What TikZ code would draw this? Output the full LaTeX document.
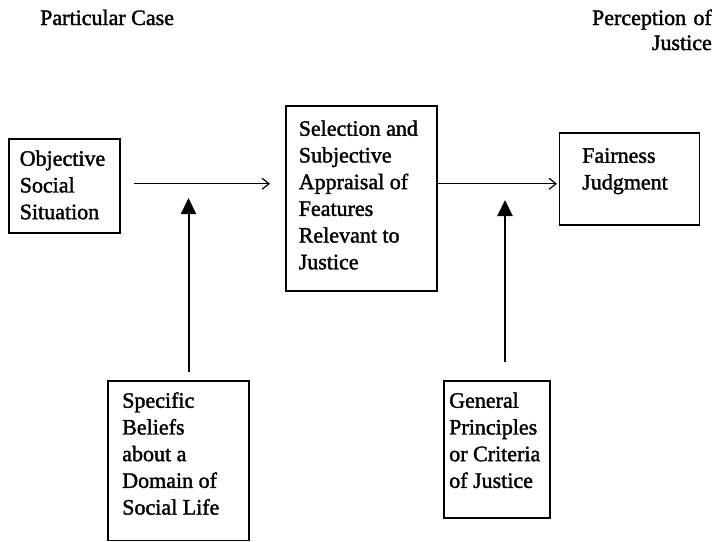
\documentclass[tikz,border=0pt]{standalone}
\usepackage{fontspec}
\setmainfont{Liberation Serif}[FakeBold = 1.6]
\usetikzlibrary{arrows.meta}
\tikzstyle{diagram} = [x = 1pt, y = -1pt]
\tikzstyle{boxStyle} = [draw, line width = 1.5pt, align = flush left, inner ysep = 0pt, anchor = north west, font = \fontsize{22}{26.7}\selectfont]
\tikzstyle{titleText} = [font = \fontsize{22}{25}\selectfont, inner sep = 0pt]
\tikzstyle{flowArrow} = [line width = 1.2pt, -{Straight Barb[length = 7pt, width = 11pt]}]
\tikzstyle{influenceArrow} = [line width = 2pt, -{Triangle[length = 16pt, width = 15pt]}]
% name, left, top, width, height, padding, first baseline, text
\newcommand{\conceptBox}[8]{
  \pgfmathsetmacro{\boxTextWidth}{#4 - 2 * #6}
  \pgfmathsetmacro{\boxTextDepth}{#5 - #7}
  \node [boxStyle, text width = \boxTextWidth pt, inner xsep = #6 pt, text height = #7 pt, text depth = \boxTextDepth pt] (#1) at (#2, #3) {#8};
}
\begin{document}
\begin{tikzpicture}[diagram]
        \useasboundingbox (0, 0) rectangle (717, 541);
        \node [titleText, anchor = base west] (caseTitle) at (40, 25) {Particular Case};
        \node [titleText, anchor = base east, align = right, text width = 150pt] (perceptionTitle) at (712, 25) {Perception of\\Justice};

        \conceptBox{situationBox}{8}{138}{111}{94}{11}{27}{Objective\\Social\\Situation}
        \conceptBox{appraisalBox}{285}{105}{151}{185}{13}{30}{Selection and\\Subjective\\Appraisal of\\Features\\Relevant to\\Justice}
        \conceptBox{judgmentBox}{558.5}{132}{140}{92}{23}{30}{Fairness\\Judgment}
        \conceptBox{beliefsBox}{107}{380}{141}{159.5}{14.5}{27}{Specific\\Beliefs\\about a\\Domain of\\Social Life}
        \conceptBox{principlesBox}{443}{380}{106}{137}{5.5}{27}{General\\Principles\\or Criteria\\of Justice}

        \coordinate (beliefsTip) at (188.5, 198);
        \coordinate (principlesTip) at (505, 200);

        \draw [flowArrow, shorten < = 13pt, shorten > = 15pt] ([yshift = 2pt] situationBox.east) -- ([yshift = 2pt] situationBox.east -| appraisalBox.west);
        \draw [flowArrow, shorten > = 1.5pt] ([yshift = 2pt] situationBox.east -| appraisalBox.east) -- ([yshift = 2pt] situationBox.east -| judgmentBox.west);
        \draw [influenceArrow, shorten < = 8pt] (beliefsTip |- beliefsBox.north) -- (beliefsTip);
        \draw [influenceArrow, shorten < = 18pt] (principlesTip |- principlesBox.north) -- (principlesTip);
      \end{tikzpicture}
\end{document}
